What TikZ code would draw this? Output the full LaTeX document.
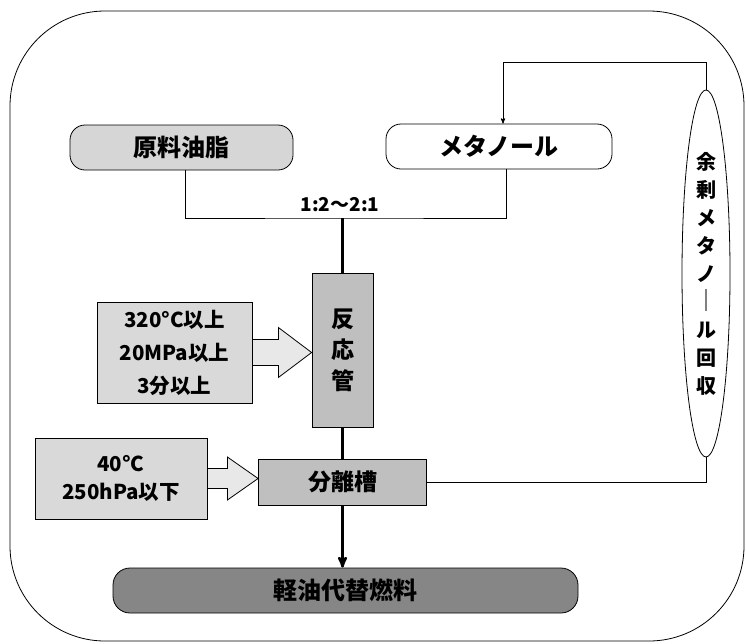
\documentclass[tikz,border=0pt]{standalone}
\usepackage{fontspec}
\setmainfont{Noto Sans CJK JP}
\usepackage{tikz}
\usetikzlibrary{arrows,shapes.geometric,calc}

\begin{document}
\begin{tikzpicture}[x=1pt,y=-1pt,>=stealth',font=\bfseries]
  \tikzstyle{feed}=[draw,thick,rounded corners=15,minimum height=45,inner sep=0,font=\bfseries\fontsize{24}{24}\selectfont]
  \tikzstyle{unit}=[draw,thick,fill=gray!50,inner sep=0,align=center,font=\bfseries\fontsize{23}{31}\selectfont]
  \tikzstyle{cond}=[draw,thick,fill=gray!30,inner sep=0,align=center]
  \tikzstyle{pipe}=[line width=2.5pt]
  \tikzstyle{thinpipe}=[line width=0.9pt]
  \tikzstyle{bigarrow}=[thick,fill=gray!18]

  \useasboundingbox (0,0) rectangle (746,643);
  \draw[thick,rounded corners=95] (10,11) rectangle (744,641);

  \node[feed,fill=gray!32,minimum width=223] (oil) at (181.5,147.5) {原料油脂};
  \node[feed,fill=white,minimum width=226] (meoh) at (499,146.5) {メタノール};
  \node[unit,minimum width=61,minimum height=154] (reactor) at (342.5,350) {反\\応\\管};
  \node[unit,minimum width=168,minimum height=46] (sep) at (342.5,482) {分離槽};
  \node[feed,fill=gray!95,minimum width=465,rounded corners=17] (fuel) at (345.5,590.5) {軽油代替燃料};
  \node[cond,minimum width=155,minimum height=101,font=\bfseries\fontsize{20.5}{33}\selectfont] (cond1) at (174.5,352.5) {320°C以上\\20MPa以上\\3分以上};
  \node[cond,minimum width=172,minimum height=81,font=\bfseries\fontsize{20.5}{28}\selectfont] (cond2) at (121,478.5) {40°C\\250hPa以下};
  \node[draw,thick,ellipse,minimum width=48,minimum height=367,inner sep=0,align=center,
        font=\bfseries\fontsize{20}{28}\selectfont] (recov) at (706,273.5)
        {余\\剰\\メ\\タ\\ノ\\\textcolor{gray}{\rule[-2pt]{1.2pt}{22pt}}\\ル\\回\\収};
  \node[font=\bfseries\fontsize{19}{19}\selectfont] (ratio) at (340,205) {1:2～2:1};
  \coordinate (mix) at (342.5,218);
  \coordinate (top) at (706,62);

  % feed lines
  \draw[thinpipe] ([xshift=4]oil.south) |- (mix) -| ([xshift=7]meoh.south);
  \draw[pipe] (mix) -- (reactor.north);
  \draw[pipe] (reactor.south) -- (sep.north);
  \draw[pipe,->] (sep.south) -- (sep.south |- fuel.north);
  % recycle loop
  \draw[thinpipe] (sep.east) -| (recov.south);
  \draw[thinpipe,->] (recov.north) -- (top) -| ([xshift=4]meoh.north);

  % condition arrows
  \filldraw[bigarrow] ($(cond1.east)+(0.7,-13)$) -- ++(25.3,0) -- ++(0,-12) -- (cond1.east -| reactor.west)
     -- ($(cond1.east)+(26,25)$) -- ++(0,-12) -- ($(cond1.east)+(0.7,13)$);
  \filldraw[bigarrow] ($(cond2.east)+(0.7,-10)$) -- ++(19.3,0) -- ++(0,-11.5) -- (cond2.east -| sep.west)
     -- ($(cond2.east)+(20,21.5)$) -- ++(0,-11.5) -- ($(cond2.east)+(0.7,10)$);
\end{tikzpicture}
\end{document}
